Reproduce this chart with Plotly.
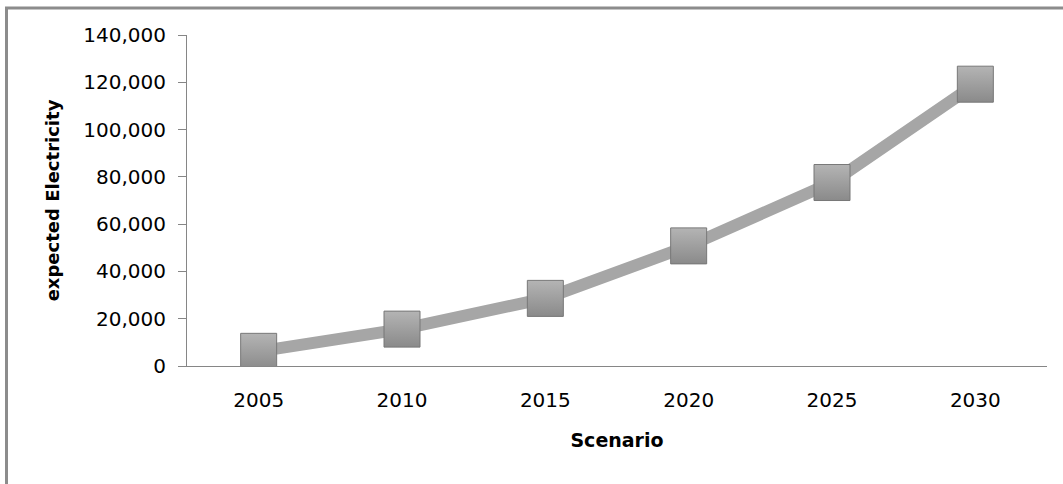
import plotly.graph_objects as go

scenarios = ["2005", "2010", "2015", "2020", "2025", "2030"]
electricity = [6200, 15600, 28600, 50800, 77600, 119200]
y_ticks = [0, 20000, 40000, 60000, 80000, 100000, 120000, 140000]

fig = go.Figure()
fig.add_trace(go.Scatter(
    x=scenarios, y=electricity, mode="lines",
    line=dict(color="#a6a6a6", width=12),
    hoverinfo="skip", showlegend=False,
))
fig.add_trace(go.Scatter(
    x=scenarios, y=electricity, mode="markers",
    marker=dict(symbol="square", size=36, color="#b4b4b4",
                gradient=dict(type="vertical", color="#8a8a8a"),
                line=dict(color="#777777", width=1)),
    showlegend=False,
))

tick_font = dict(family="DejaVu Sans", size=20, color="black")
fig.update_layout(
    width=1063, height=484,
    margin=dict(l=187, r=16, t=35, b=118),
    paper_bgcolor="white", plot_bgcolor="white",
    xaxis=dict(
        type="category", range=[-0.5, 5.5], showline=True, linecolor="#868686", linewidth=1,
        showgrid=False, ticks="", tickfont=tick_font, ticklabelstandoff=16,
        title=dict(text="<b>Scenario</b>", font=dict(family="DejaVu Sans", size=19, color="black"), standoff=22),
    ),
    yaxis=dict(
        range=[0, 140000], tickvals=y_ticks, tickformat=",",
        showline=True, linecolor="#868686", linewidth=1, showgrid=False,
        ticks="outside", ticklen=8, tickcolor="#868686", tickfont=tick_font,
        ticklabelstandoff=8, zeroline=False,
        title=dict(text="<b>expected Electricity</b>", font=dict(family="DejaVu Sans", size=18, color="black"), standoff=18),
    ),
    shapes=[dict(type="rect", xref="paper", yref="paper",
                 x0=(6.5 - 187) / 860, x1=1.2, y0=-0.6, y1=1 + (35 - 8) / 331,
                 line=dict(color="#8c8c8c", width=3))],
)
fig.write_html("out.html")
